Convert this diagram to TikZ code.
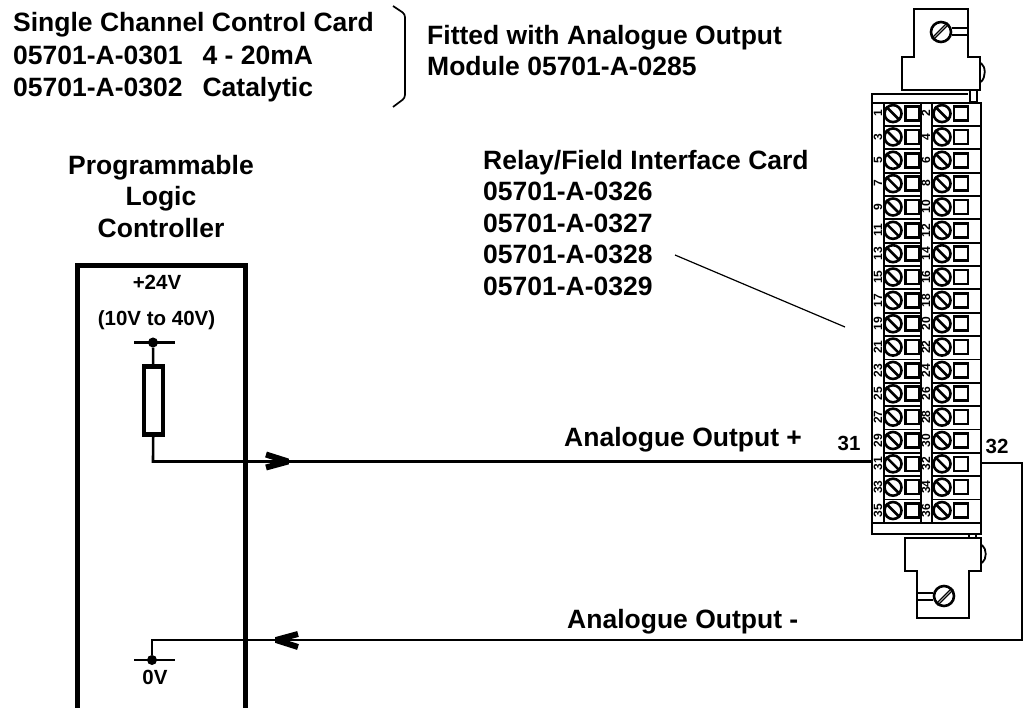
\documentclass[tikz,border=0pt]{standalone}
\usepackage{fontspec}
\setmainfont{Liberation Sans}
\tikzset{
  lbl/.style={font=\fontsize{26.5}{30}\selectfont\bfseries,inner sep=0pt},
  lblsmall/.style={font=\fontsize{20.5}{24}\selectfont\bfseries,inner sep=0pt},
  pin/.style={font=\fontsize{12}{12}\selectfont\bfseries,inner sep=0pt,rotate=90},
  wire/.style={line width=2.6pt},
  part/.style={line width=2.8pt,line join=miter},
  screw/.style={circle,draw,line width=2.6pt,minimum size=17pt,inner sep=0pt},
  socket/.style={rectangle,draw,line width=2.6pt,minimum width=14pt,minimum height=14pt,inner sep=0pt},
  tick/.style={circle,fill,minimum size=10pt,inner sep=0pt},
  chevron/.style={line width=6pt,line join=bevel}
}
\begin{document}
\begin{tikzpicture}[x=1pt,y=-1pt]
  \useasboundingbox (0,0) rectangle (1029,708);

  \node[lbl,anchor=base west] (card1) at (13,32) {Single Channel Control Card};
  \node[lbl,anchor=base west] (card2) at (13,65) {05701-A-0301\hspace{20pt}4 - 20mA};
  \node[lbl,anchor=base west] (card3) at (13,97) {05701-A-0302\hspace{20pt}Catalytic};
  \node[lbl,anchor=base west] (fit1)  at (427,45) {Fitted with Analogue Output};
  \node[lbl,anchor=base west] (fit2)  at (427,76) {Module 05701-A-0285};
  \draw[line width=1.7pt,rounded corners=3pt] (393,6) -- (405,14) -- (405,98) -- (393,107);

  \node[lbl,anchor=base] (plc1) at (161,175) {Programmable};
  \node[lbl,anchor=base] (plc2) at (161,206) {Logic};
  \node[lbl,anchor=base] (plc3) at (161,238) {Controller};
  \draw[line width=5pt] (77,708) -- (77,266) -- (245,266) -- (245,708);
  \node[lblsmall] (v24) at (157,282) {+24V};
  \node[lblsmall] (vrange) at (156.5,320) {(10V to 40V)};

  \node[tick] (top) at (153,342.5) {};
  \coordinate (topl) at (134,342.5);
  \coordinate (topr) at (175,342.5);
  \draw[wire] (topl) -- (topr);
  \node[rectangle,draw,line width=4.5pt,minimum width=19pt,minimum height=68pt,inner sep=0pt] (res) at (153.5,400.5) {};
  \draw[wire] (top) -- (res);
  \coordinate (jplus) at (153,461.5);

  \node[tick] (bot) at (152,660) {};
  \coordinate (botl) at (134,660);
  \coordinate (botr) at (175,660);
  \draw[wire] (botl) -- (botr);
  \coordinate (jminus) at (152,640);
  \node[lblsmall] (v0) at (155,677) {0V};

  \node[lbl,anchor=base west] (relay0) at (483,170) {Relay/Field Interface Card};
  \node[lbl,anchor=base west] (relay1) at (483,201) {05701-A-0326};
  \node[lbl,anchor=base west] (relay2) at (483,233) {05701-A-0327};
  \node[lbl,anchor=base west] (relay3) at (483,264) {05701-A-0328};
  \node[lbl,anchor=base west] (relay4) at (483,296) {05701-A-0329};
  \coordinate (leadA) at (675,255);
  \coordinate (leadB) at (845,327);
  \draw[line width=1.2pt] (leadA) -- (leadB);

  \node[lbl,anchor=base west] (outp) at (564,447) {Analogue Output +};
  \node[lbl,anchor=base west] (outm) at (567,628) {Analogue Output -};
  \node[lblsmall] (n31) at (849,443) {31};
  \node[lblsmall] (n32) at (997,446) {32};

  % terminal block
  \draw[part] (872,102) -- (872,94) -- (968,94);
  \draw[part] (872,103) rectangle (981,534);
  \draw[line width=1.6pt] (884,103) -- (884,523);
  \draw[part] (872,523) -- (981,523);
  \draw[line width=1.2pt] (921,103) -- (921,523);
  \draw[line width=1.2pt] (932,103) -- (932,523);
  \foreach \row in {0,...,17} {
    \pgfmathsetmacro{\ypos}{113.6+23.35*\row}
    \pgfmathtruncatemacro{\lnum}{2*\row+1}
    \pgfmathtruncatemacro{\rnum}{2*\row+2}
    \node[pin] (pl\row) at (878,\ypos) {\lnum};
    \node[pin] (pr\row) at (926,\ypos) {\rnum};
    \node[screw] (sl\row) at (893,\ypos) {};
    \node[screw] (sr\row) at (942,\ypos) {};
    \draw[line width=2.6pt] (sl\row.north west) -- (sl\row.south east);
    \draw[line width=2.6pt] (sr\row.north west) -- (sr\row.south east);
    \node[socket] (kl\row) at (912.5,\ypos) {};
    \node[socket] (kr\row) at (961,\ypos) {};
    \ifnum\row>0
      \draw[line width=1.8pt] (884,\ypos-11) -- (921,\ypos-11);
      \draw[line width=1.8pt] (932,\ypos-11) -- (981,\ypos-11);
    \fi
  }
  \coordinate (t31) at (872,461.5);
  \coordinate (t32) at (981,463);
  \coordinate (loopa) at (1022,463);
  \coordinate (loopb) at (1022,640);

  \draw[wire] (res) -- (jplus) -- (t31);
  \draw[wire] (t32) -- (loopa) -- (loopb) -- (jminus) -- (bot);
  \draw[chevron] (266,454.5) -- (288,461.5) -- (266,467.5);
  \draw[chevron] (298,634) -- (276,640) -- (298,647);

  % fixing brackets
  \draw[part] (914,90) -- (902,90) -- (902,57) -- (914,57) -- (914,9) -- (968,9) -- (968,57) -- (980,57) -- (980,90) -- cycle;
  \draw[line width=1.8pt] (981,63) .. controls (986,67) and (986,77) .. (981,82);
  \node[screw,minimum size=20pt] (fixtop) at (941,32) {};
  \draw[line width=1.2pt] (fixtop.south west) -- (fixtop.north east);
  \draw[line width=1.2pt] ([shift={(-1.5,-1.5)}]fixtop.south west) -- ([shift={(-1.5,-1.5)}]fixtop.north east);
  \draw[line width=1.8pt] (952,28) -- (968,28) (952,35) -- (968,35);
  \draw[line width=1.6pt] (970,90) rectangle (977,102);

  \draw[part] (917,538) -- (905,538) -- (905,571) -- (917,571) -- (917,618) -- (969,618) -- (969,571) -- (981,571) -- (981,538) -- cycle;
  \draw[line width=1.8pt] (982,545) .. controls (987,549) and (987,559) .. (982,563);
  \node[screw,minimum size=20pt] (fixbot) at (944,596) {};
  \draw[line width=1.2pt] (fixbot.south west) -- (fixbot.north east);
  \draw[line width=1.2pt] ([shift={(1.5,1.5)}]fixbot.south west) -- ([shift={(1.5,1.5)}]fixbot.north east);
  \draw[line width=1.8pt] (917,593) -- (933,593) (917,600) -- (933,600);
  \draw[line width=1.4pt] (969,534) rectangle (976,538);
\end{tikzpicture}
\end{document}
